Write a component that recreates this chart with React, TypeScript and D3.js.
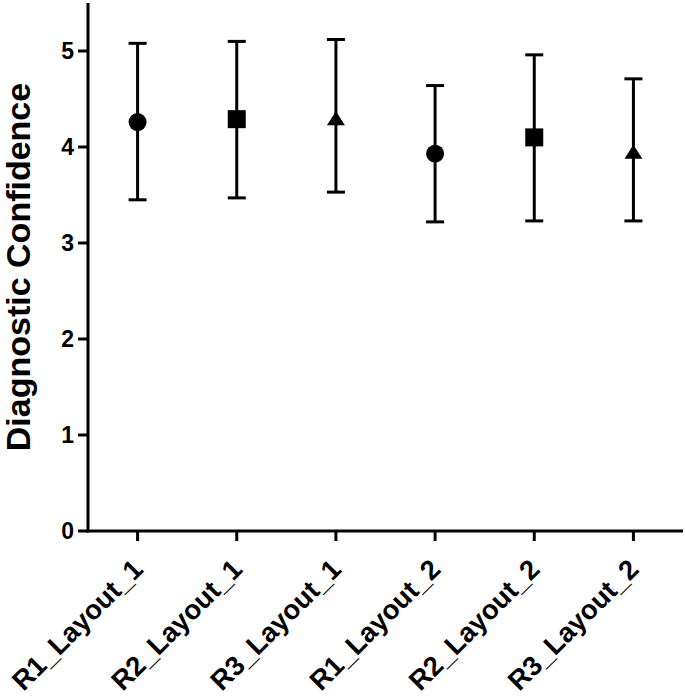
import React from "react";
import * as d3 from "d3";

const categories = ["R1_Layout_1", "R2_Layout_1", "R3_Layout_1", "R1_Layout_2", "R2_Layout_2", "R3_Layout_2"];
const means = [4.26, 4.29, 4.30, 3.93, 4.10, 3.95];
const upper = [5.08, 5.10, 5.12, 4.64, 4.96, 4.71];
const lower = [3.45, 3.47, 3.53, 3.22, 3.23, 3.23];
const shapes = ["circle", "square", "triangle", "circle", "square", "triangle"];
const yTicks = [0, 1, 2, 3, 4, 5];
const yLabel = "Diagnostic Confidence";

const W = 685;
const H = 697;
const FONT = "'Liberation Sans', Arial, Helvetica, sans-serif";

export default function App() {
  const x = d3.scaleBand<string>().domain(categories).range([88, 683]);
  const y = d3.scaleLinear().domain([0, 5.5]).range([531, 3]);
  const cx = (c: string) => (x(c) as number) + x.bandwidth() / 2;
  const capW = 18;
  const sym = (s: string) => {
    if (s === "circle") return d3.symbol(d3.symbolCircle, Math.PI * 9 * 9)();
    if (s === "square") return d3.symbol(d3.symbolSquare, 18 * 18)();
    return null;
  };
  return (
    <svg width={W} height={H} style={{ position: "absolute", left: 0, top: 0, background: "#fff" }}>
      {/* error bars */}
      {categories.map((c, i) => {
        const X = cx(c);
        return (
          <g key={c} stroke="#000" strokeWidth={3}>
            <line x1={X} x2={X} y1={y(upper[i])} y2={y(lower[i])} />
            <line x1={X - capW / 2} x2={X + capW / 2} y1={y(upper[i])} y2={y(upper[i])} />
            <line x1={X - capW / 2} x2={X + capW / 2} y1={y(lower[i])} y2={y(lower[i])} />
          </g>
        );
      })}
      {/* markers */}
      {categories.map((c, i) => {
        const X = cx(c);
        const Y = y(means[i]);
        if (shapes[i] === "triangle") {
          const tw = 18, th = 14;
          const pts = `${X - tw / 2},${Y + th / 2} ${X + tw / 2},${Y + th / 2} ${X},${Y - th / 2}`;
          return <polygon key={c} points={pts} fill="#000" />;
        }
        return <path key={c} d={sym(shapes[i]) as string} transform={`translate(${X},${Y})`} fill="#000" />;
      })}
      {/* y axis */}
      <line x1={88} x2={88} y1={y(5.5)} y2={y(0) + 1.5} stroke="#000" strokeWidth={3} />
      {yTicks.map((t) => (
        <g key={t}>
          <line x1={78} x2={88} y1={y(t)} y2={y(t)} stroke="#000" strokeWidth={3} />
          <text x={74} y={y(t)} dy="0.36em" textAnchor="end" fontFamily={FONT} fontWeight="bold" fontSize={23} fill="#000">
            {t}
          </text>
        </g>
      ))}
      {/* x axis */}
      <line x1={86.5} x2={683} y1={y(0)} y2={y(0)} stroke="#000" strokeWidth={3} />
      {categories.map((c) => {
        const X = cx(c);
        return (
          <g key={c}>
            <line x1={X} x2={X} y1={y(0)} y2={y(0) + 10} stroke="#000" strokeWidth={3} />
            <text
              transform={`translate(${X + 7},${y(0) + 40}) rotate(-45)`}
              textAnchor="end"
              fontFamily={FONT}
              fontWeight="bold"
              fontSize={27.5}
              fill="#000"
            >
              {c}
            </text>
          </g>
        );
      })}
      <text
        transform={`translate(30,${(y(5.5) + y(0)) / 2}) rotate(-90)`}
        textAnchor="middle"
        fontFamily={FONT}
        fontWeight="bold"
        fontSize={34}
        fill="#000"
      >
        {yLabel}
      </text>
    </svg>
  );
}
